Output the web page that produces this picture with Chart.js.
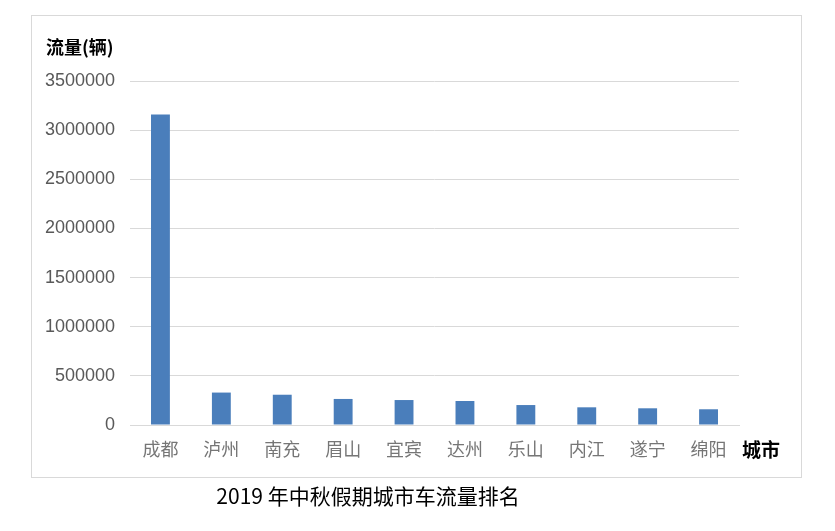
<!DOCTYPE html>
<html>
<head>
<meta charset="utf-8">
<script src="https://cdn.jsdelivr.net/npm/chart.js@4"></script>
<style>
  html, body { margin: 0; padding: 0; background: #fff; }
  #wrap { width: 835px; height: 531px; position: relative; }
</style>
</head>
<body>
<div id="wrap"><canvas id="trafficChart"></canvas></div>
<script>
const cities = ['成都', '泸州', '南充', '眉山', '宜宾', '达州', '乐山', '内江', '遂宁', '绵阳'];
const flow = [3160000, 330000, 308000, 265000, 254000, 244000, 203000, 180000, 170000, 160000];
const yTicks = [0, 500000, 1000000, 1500000, 2000000, 2500000, 3000000, 3500000];

const cjk = '"Noto Sans CJK SC", "Noto Sans", sans-serif';

// frame, axis titles and the caption under the frame
const decorations = {
  id: 'decorations',
  afterDraw(chart) {
    const ctx = chart.ctx;
    const area = chart.chartArea;
    ctx.save();
    ctx.strokeStyle = '#d9d9d9';
    ctx.lineWidth = 1;
    ctx.strokeRect(31.5, 15.5, 770, 462);

    ctx.fillStyle = '#000';
    ctx.font = 'bold 18px ' + cjk;
    ctx.textBaseline = 'middle';
    ctx.textAlign = 'left';
    ctx.fillText('流量(辆)', 46, 47);

    ctx.font = 'bold 19px ' + cjk;
    ctx.fillText('城市', area.right + 3, 450);

    ctx.font = '21px ' + cjk;
    ctx.textAlign = 'center';
    ctx.fillText('2019 年中秋假期城市车流量排名', 368, 496);
    ctx.restore();
  }
};

const ctx = document.getElementById('trafficChart').getContext('2d');
new Chart(ctx, {
  type: 'bar',
  data: {
    labels: cities,
    datasets: [{
      label: '流量',
      data: flow,
      backgroundColor: '#4a7ebb',
      borderWidth: 0,
      barPercentage: 0.31,
      categoryPercentage: 1
    }]
  },
  options: {
    responsive: true,
    maintainAspectRatio: false,
    animation: false,
    layout: { padding: { left: 30, right: 96, top: 81, bottom: 60 } },
    plugins: {
      legend: { display: false },
      tooltip: { enabled: false }
    },
    scales: {
      x: {
        grid: { display: false, drawTicks: false },
        border: { display: true, color: '#d9d9d9', width: 1 },
        ticks: {
          color: '#767676',
          font: { family: cjk, size: 18 },
          padding: 13,
          maxRotation: 0
        },
        afterFit(scale) { scale.height = 46; }
      },
      y: {
        min: 0,
        max: 3500000,
        afterBuildTicks(scale) { scale.ticks = yTicks.map(v => ({ value: v })); },
        grid: { color: '#d9d9d9', drawTicks: false },
        border: { display: false },
        ticks: {
          color: '#595959',
          font: { family: '"Liberation Sans", Arial, sans-serif', size: 18 },
          padding: 15,
          callback: v => String(v)
        },
        afterFit(scale) { scale.width = 100; }
      }
    }
  },
  plugins: [decorations]
});
</script>
</body>
</html>
